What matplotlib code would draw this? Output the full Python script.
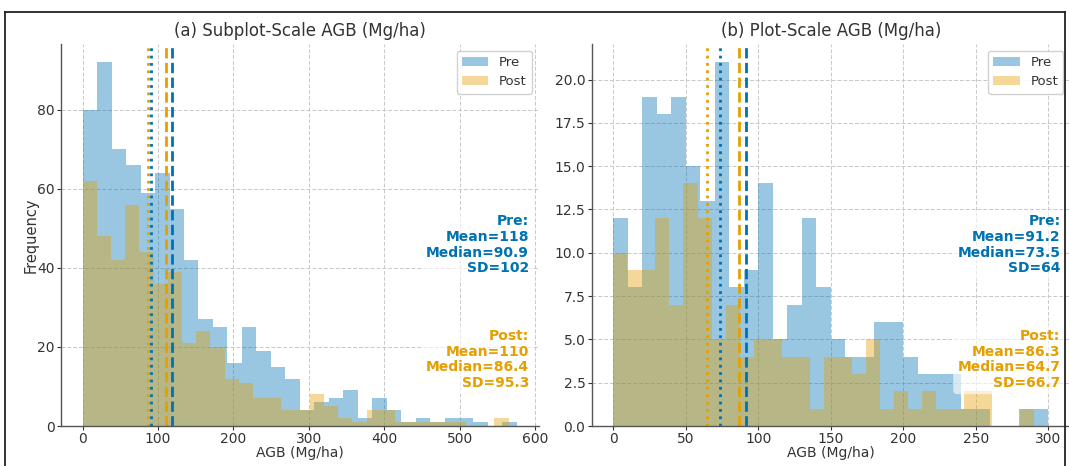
import numpy as np
import matplotlib.pyplot as plt
from matplotlib.lines import Line2D

pre_color = '#0072B2'
post_color = '#E69F00'

# (a) subplot scale: 30 bins per series
sub_pre_range = (0, 576)
sub_pre_counts = [80, 92, 70, 66, 59, 64, 55, 42, 27, 25, 16, 25, 19, 15, 12,
                  4, 6, 7, 9, 2, 7, 4, 1, 2, 1, 2, 2, 1, 0, 1]
sub_post_range = (0, 565)
sub_post_counts = [62, 48, 42, 56, 44, 36, 39, 21, 24, 20, 12, 11, 7, 7, 4,
                   4, 8, 5, 2, 1, 4, 4, 1, 1, 1, 1, 1, 0, 0, 2]
sub_pre_stats = [118, 90.9, 102]     # mean, median, sd
sub_post_stats = [110, 86.4, 95.3]

# (b) plot scale
plot_pre_range = (0, 300)
plot_pre_counts = [12, 8, 19, 18, 19, 15, 13, 21, 8, 9, 14, 5, 7, 12, 8,
                   5, 4, 4, 6, 6, 4, 3, 3, 3, 1, 1, 0, 0, 1, 1]
plot_post_range = (0, 290)
plot_post_counts = [10, 9, 9, 12, 7, 14, 12, 5, 7, 4, 5, 5, 4, 4, 1,
                    4, 4, 3, 5, 1, 2, 1, 2, 1, 1, 2, 2, 0, 0, 1]
plot_pre_stats = [91.2, 73.5, 64]
plot_post_stats = [86.3, 64.7, 66.7]

titles = ['(a) Subplot-Scale AGB (Mg/ha)', '(b) Plot-Scale AGB (Mg/ha)']

W, H = 1069, 466
fig = plt.figure(figsize=(W / 100, H / 100), dpi=100)

def px_axes(x0, x1, y0, y1):
    return fig.add_axes([x0 / W, (H - y1) / H, (x1 - x0) / W, (y1 - y0) / H])

ax1 = px_axes(61, 538.6, 44, 426)
ax2 = px_axes(591.7, 1070, 44, 426)


def draw(ax, pre_rng, pre_cnt, post_rng, post_cnt, pre_st, post_st, title):
    pe = np.linspace(pre_rng[0], pre_rng[1], len(pre_cnt) + 1)
    qe = np.linspace(post_rng[0], post_rng[1], len(post_cnt) + 1)
    ax.hist(pe[:-1], bins=pe, weights=pre_cnt, color=pre_color, alpha=0.4, label='Pre')
    ax.hist(qe[:-1], bins=qe, weights=post_cnt, color=post_color, alpha=0.4, label='Post')

    ax.axvline(pre_st[0], color=pre_color, ls='--', lw=2)
    ax.axvline(pre_st[1], color=pre_color, ls=':', lw=2)
    ax.axvline(post_st[0], color=post_color, ls='--', lw=2)
    ax.axvline(post_st[1], color=post_color, ls=':', lw=2)

    box = dict(boxstyle='round,pad=0.3', facecolor='white', alpha=0.6, edgecolor='none')
    ax.text(0.98, 0.474, 'Pre:\nMean=%.3g\nMedian=%.3g\nSD=%.3g' % tuple(pre_st),
            transform=ax.transAxes, ha='right', va='center', color=pre_color,
            fontsize=10, fontweight='bold', linespacing=1.15, bbox=box)
    ax.text(0.98, 0.174, 'Post:\nMean=%.3g\nMedian=%.3g\nSD=%.3g' % tuple(post_st),
            transform=ax.transAxes, ha='right', va='center', color=post_color,
            fontsize=10, fontweight='bold', linespacing=1.15, bbox=box)

    ax.set_title(title, fontsize=12, color='#333333')
    ax.set_xlabel('AGB (Mg/ha)', fontsize=10, color='#333333', labelpad=0)
    ax.grid(True, color='#c8c8c8', ls=(0, (4, 2)), lw=0.7)
    ax.set_axisbelow(True)
    for s in ['top', 'right']:
        ax.spines[s].set_visible(False)
    for s in ['left', 'bottom']:
        ax.spines[s].set_color('#555555')
        ax.spines[s].set_linewidth(1.0)
    ax.tick_params(labelsize=10, colors='#333333', length=3, width=0.8, pad=1.5)
    leg = ax.legend(loc='upper right', fontsize=9.5, framealpha=0.9)
    leg.get_frame().set_edgecolor('#cccccc')
    for t in leg.get_texts():
        t.set_color('#333333')


draw(ax1, sub_pre_range, sub_pre_counts, sub_post_range, sub_post_counts,
     sub_pre_stats, sub_post_stats, titles[0])
ax1.set_ylabel('Frequency', fontsize=10.5, color='#333333', labelpad=-1)
ax1.set_xticks(np.arange(0, 601, 100))

draw(ax2, plot_pre_range, plot_pre_counts, plot_post_range, plot_post_counts,
     plot_pre_stats, plot_post_stats, titles[1])
ax2.set_xticks(np.arange(0, 301, 50))
ax2.set_yticks(np.arange(0, 20.1, 2.5))

# outer frame of the screenshot
fx = lambda x: x / W
fy = lambda y: (H - y) / H
for xs, ys in [((5, 1065), (12, 12)), ((5, 5), (12, H)), ((1065, 1065), (12, H))]:
    fig.add_artist(Line2D([fx(v) for v in xs], [fy(v) for v in ys],
                          color='#222222', lw=1.3))

fig.savefig('out.png', dpi=100)
